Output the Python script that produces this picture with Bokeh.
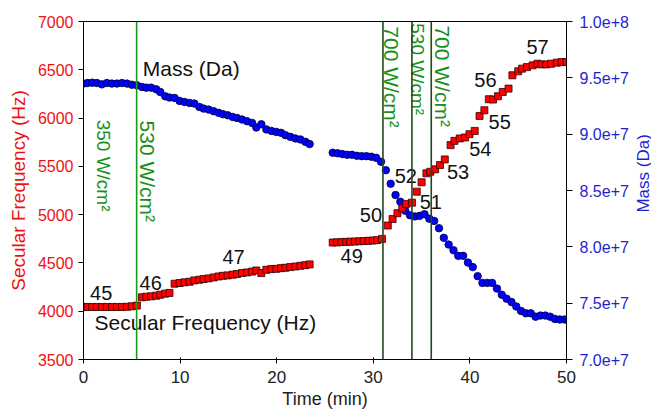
import numpy as np
from bokeh.plotting import figure
from bokeh.layouts import row
from bokeh.models import (Range1d, LinearAxis, FixedTicker, CustomJSTickFormatter,
                          Span, ColumnDataSource)
from bokeh.embed import file_html
from bokeh.resources import INLINE
from bokeh.core.properties import value

# ---------------- data ----------------
freq_time = [0.0, 0.42, 0.9, 1.38, 1.9, 2.42, 2.94, 3.46, 3.98, 4.5, 5.0, 5.53,
             6.05, 6.5, 7.0, 7.53, 7.95, 8.46, 8.9,
             9.43, 9.95, 10.46, 10.98, 11.47, 11.99, 12.43, 12.95, 13.47, 13.99,
             14.44, 14.92, 15.44, 15.89, 16.41, 16.93, 17.45, 17.89, 18.41, 18.93,
             19.45, 19.96, 20.45, 20.9, 21.41, 21.93, 22.45, 22.97, 23.41,
             25.8, 26.25, 26.7, 27.2, 27.6, 28.1, 28.55, 29.0, 29.5, 29.95, 30.4, 30.9,
             31.5, 32.0, 32.5, 33.0, 33.4, 34.0, 34.5, 35.0, 35.5, 35.9, 36.4, 36.9, 37.4,
             38.0, 38.4, 38.95, 39.5, 39.96, 40.5, 41.0, 41.5, 41.96, 42.4, 42.9, 43.4,
             44.0, 44.4, 45.0, 45.4, 45.9, 46.5, 47.0, 47.4, 47.9, 48.4, 49.0, 49.5, 50.0]
freq_hz = [4044, 4044, 4044, 4044, 4044, 4044, 4044, 4044, 4044, 4046, 4051, 4058,
           4144, 4150, 4154, 4161, 4171, 4182, 4189,
           4285, 4292, 4299, 4305, 4319, 4326, 4333, 4340, 4350, 4360,
           4367, 4371, 4378, 4385, 4395, 4402, 4410, 4422, 4395, 4429,
           4436, 4439, 4446, 4450, 4457, 4463, 4470, 4477, 4485,
           4711, 4713, 4716, 4718, 4720, 4722, 4724, 4727, 4729, 4732, 4736, 4749,
           4887, 4956, 5015, 5066, 5111, 5124, 5238, 5335, 5428, 5444, 5469, 5513, 5572,
           5720, 5764, 5789, 5799, 5833, 5867, 6022, 6081, 6195, 6192, 6226, 6270,
           6305, 6443, 6484, 6512, 6528, 6546, 6563, 6556, 6556, 6563, 6574, 6580, 6580]

mass_time = [0.0, 0.42, 0.9, 1.38, 1.9, 2.42, 2.94, 3.46, 3.98, 4.5, 5.0, 5.53,
             6.05, 6.5, 7.0, 7.53, 7.95, 8.46, 8.9, 9.43, 9.95, 10.46, 10.98, 11.47,
             11.99, 12.43, 12.95, 13.47, 13.99, 14.44, 14.92, 15.44, 15.89, 16.41,
             16.93, 17.45, 17.89, 18.41, 18.93, 19.45, 19.96, 20.45, 20.9, 21.41,
             21.93, 22.45, 22.97, 23.41,
             25.8, 26.3, 26.8, 27.3, 27.8, 28.3, 28.8, 29.3, 29.8, 30.3, 30.8, 31.3,
             31.8, 32.3, 32.8, 33.3, 33.8, 34.3, 34.8, 35.3, 35.8, 36.3, 36.8, 37.3,
             37.8, 38.3, 38.8, 39.3, 39.8, 40.3, 40.8, 41.3, 41.8, 42.3, 42.8, 43.3,
             43.8, 44.3, 44.8, 45.3, 45.8, 46.3, 46.8, 47.3, 47.8, 48.3, 48.8, 49.3, 49.8]
mass_da = [9.449e7, 9.454e7, 9.457e7, 9.454e7, 9.442e7, 9.454e7, 9.449e7, 9.449e7,
           9.454e7, 9.449e7, 9.439e7, 9.434e7, 9.419e7, 9.413e7, 9.413e7, 9.398e7,
           9.374e7, 9.336e7, 9.325e7, 9.322e7, 9.295e7, 9.286e7, 9.277e7, 9.272e7,
           9.242e7, 9.227e7, 9.218e7, 9.204e7, 9.189e7, 9.177e7, 9.168e7, 9.153e7,
           9.144e7, 9.130e7, 9.115e7, 9.100e7, 9.059e7, 9.088e7, 9.042e7, 9.029e7,
           9.020e7, 9.012e7, 8.991e7, 8.976e7, 8.962e7, 8.953e7, 8.932e7, 8.912e7,
           8.835e7, 8.830e7, 8.823e7, 8.817e7, 8.817e7, 8.808e7, 8.805e7, 8.805e7,
           8.800e7, 8.790e7, 8.755e7, 8.680e7, 8.560e7, 8.460e7, 8.400e7, 8.320e7,
           8.280e7, 8.270e7, 8.275e7, 8.290e7, 8.250e7, 8.230e7, 8.165e7, 8.080e7,
           8.020e7, 7.970e7, 7.920e7, 7.920e7, 7.860e7, 7.820e7, 7.740e7, 7.680e7,
           7.680e7, 7.680e7, 7.630e7, 7.575e7, 7.540e7, 7.510e7, 7.470e7, 7.430e7,
           7.410e7, 7.410e7, 7.380e7, 7.390e7, 7.390e7, 7.380e7, 7.360e7, 7.355e7, 7.355e7]

power_change_times = [5.5, 31.0, 34.0, 36.0]
power_texts = ["350 W/cm\u00b2", "530 W/cm\u00b2", "700 W/cm\u00b2",
               "530 W/cm\u00b2", "700 W/cm\u00b2"]
peak_labels = ["45", "46", "47", "49", "50", "51", "52", "53", "54", "55", "56", "57"]

freq_ticks = [3500, 4000, 4500, 5000, 5500, 6000, 6500, 7000]
mass_ticks = [7.0e7, 7.5e7, 8.0e7, 8.5e7, 9.0e7, 9.5e7, 1.0e8]
time_ticks = [0, 10, 20, 30, 40, 50]

# ---------------- figure ----------------
FONT = "Liberation Sans"
RED = "#ee1111"
BLUE = "#1f1fd0"
GREEN = "#1a9a1a"
DKGREEN = "#1f4a1f"

p = figure(width=631, height=411, output_backend="svg", toolbar_location=None,
           x_range=Range1d(0, 50), y_range=Range1d(3500, 7000),
           min_border_left=83, min_border_right=65, min_border_top=21,
           min_border_bottom=51)
p.xgrid.visible = False
p.ygrid.visible = False
p.outline_line_color = "black"
p.outline_line_width = 1
p.background_fill_color = "white"
p.border_fill_color = "white"

p.extra_y_ranges = {"mass": Range1d(7.0e7, 1.0e8)}

# left axis
ly = p.yaxis[0]
ly.ticker = FixedTicker(ticks=freq_ticks)
ly.axis_label = "Secular Frequency (Hz)"
ly.axis_label_text_color = RED
ly.axis_label_text_font = FONT
ly.axis_label_text_font_style = "normal"
ly.axis_label_text_font_size = "19px"
ly.axis_label_standoff = 6
ly.major_label_text_color = RED
ly.major_label_text_font = FONT
ly.major_label_text_font_size = "16px"
ly.major_label_standoff = 5
ly.major_tick_out = 5
ly.major_tick_in = 0
ly.minor_tick_out = 0
ly.minor_tick_in = 0

# bottom axis
bx = p.xaxis[0]
bx.ticker = FixedTicker(ticks=time_ticks)
bx.axis_label = "Time (min)"
bx.axis_label_text_font = FONT
bx.axis_label_text_font_style = "normal"
bx.axis_label_text_font_size = "18px"
bx.axis_label_text_color = "#222222"
bx.axis_label_standoff = 3
bx.major_label_text_font = FONT
bx.major_label_text_font_size = "17px"
bx.major_label_text_color = "#222222"
bx.major_label_standoff = 7
bx.major_tick_out = 4
bx.major_tick_in = 2
bx.minor_tick_out = 0
bx.minor_tick_in = 0

# right axis (title drawn in a narrow strip to the right, reading upwards)
ry = LinearAxis(y_range_name="mass")
ry.ticker = FixedTicker(ticks=mass_ticks)
ry.formatter = CustomJSTickFormatter(code="return tick.toExponential(1);")
ry.major_label_text_color = BLUE
ry.major_label_text_font = FONT
ry.major_label_text_font_size = "16px"
ry.major_label_standoff = 7
ry.major_tick_out = 6
ry.major_tick_in = 0
ry.minor_tick_out = 0
ry.minor_tick_in = 0
p.add_layout(ry, "right")

# data markers
p.scatter(mass_time, mass_da, y_range_name="mass", marker="circle", size=7.5,
          fill_color="#0000ff", line_color="#000033", line_width=0.8)
p.scatter(freq_time, freq_hz, marker="square", size=7,
          fill_color="#ff0000", line_color="#330000", line_width=0.8)

# vertical power-change lines
for i, t in enumerate(power_change_times):
    p.add_layout(Span(location=t, dimension="height",
                      line_color=GREEN if i == 0 else DKGREEN, line_width=1.6))

# peak labels
lab_src = ColumnDataSource(dict(
    x=[1.83, 6.96, 15.54, 27.76, 29.75, 35.95, 33.36, 38.77, 41.08, 43.08, 41.61, 47.0],
    y=[4192, 4295, 4558, 4567, 4992, 5126, 5402, 5439, 5684, 5955, 6391, 6740],
    t=peak_labels))
p.text(x="x", y="y", text="t", source=lab_src, text_font=value(FONT),
       text_font_size="20px", text_align="center", text_baseline="middle",
       text_color="#111111")

# series name labels
name_src = ColumnDataSource(dict(x=[11.15, 12.61], y=[6512, 3887],
                                 t=["Mass (Da)", "Secular Frequency (Hz)"]))
p.text(x="x", y="y", text="t", source=name_src, text_font=value(FONT),
       text_font_size="21px", text_align="center", text_baseline="middle",
       text_color="#111111")

# power labels (rotated, reading downwards)
pw_src = ColumnDataSource(dict(
    x=[2.08, 6.65, 31.88, 34.62, 37.21],
    y=[5508, 5449, 6425, 6506, 6434],
    t=power_texts,
    fs=["19px", "21px", "21px", "19px", "21px"]))
p.text(x="x", y="y", text="t", source=pw_src, angle=-np.pi / 2,
       text_font=value(FONT), text_font_size="fs", text_align="center",
       text_baseline="middle", text_color="#189018")

# narrow strip holding the right-axis title
p2 = figure(width=20, height=411, output_backend="svg", toolbar_location=None,
            x_range=Range1d(0, 20), y_range=Range1d(0, 411),
            min_border=0, x_axis_location=None, y_axis_location=None)
p2.xgrid.visible = False
p2.ygrid.visible = False
p2.outline_line_color = None
p2.background_fill_color = "white"
p2.border_fill_color = "white"
p2.text(x=[11.5], y=[226.3], text=["Mass (Da)"], angle=np.pi / 2,
        text_font=value(FONT), text_font_size="17px", text_align="center",
        text_baseline="middle", text_color=BLUE)

layout = row(p, p2, spacing=0)
open("out.html", "w").write(file_html(layout, INLINE))
